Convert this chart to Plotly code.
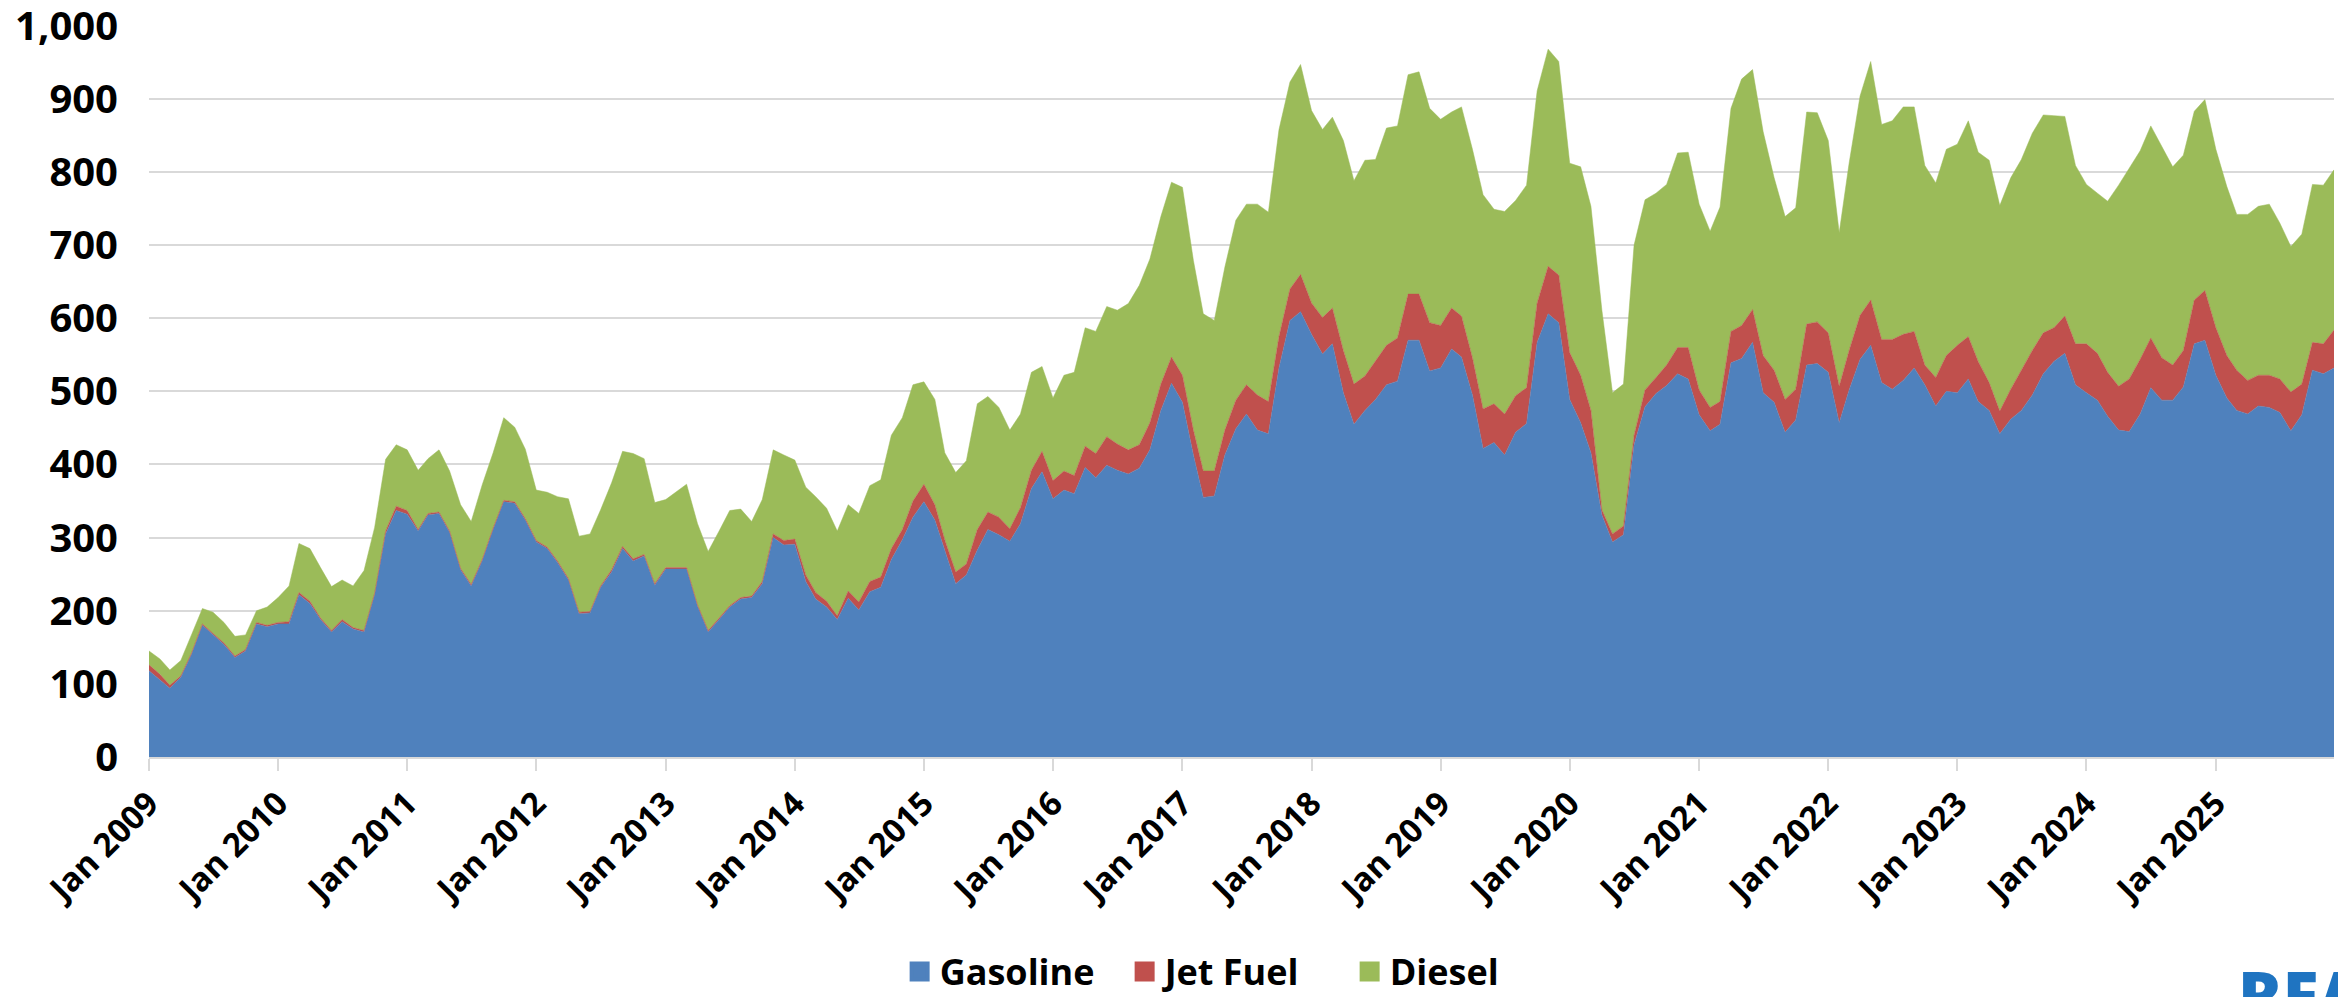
import pandas as pd
import plotly.graph_objects as go

# monthly values, Jan 2009 - Dec 2025
months = pd.date_range("2009-01-01", periods=204, freq="MS")

gasoline = [
    118, 106, 94, 109, 140, 180, 167, 154, 136, 145, 182, 178,
    182, 182, 222, 210, 188, 171, 185, 175, 171, 222, 305, 337,
    332, 309, 331, 333, 307, 256, 234, 268, 311, 349, 347, 324,
    294, 285, 266, 242, 196, 197, 232, 253, 285, 268, 275, 235,
    257, 257, 257, 206, 171, 188, 205, 216, 218, 237, 300, 290,
    291, 240, 216, 205, 188, 217, 201, 226, 232, 270, 297, 328,
    349, 324, 282, 237, 249, 283, 311, 304, 295, 319, 367, 390,
    353, 365, 360, 396, 382, 399, 392, 387, 395, 420, 474, 511,
    485, 413, 355, 357, 413, 449, 469, 447, 442, 532, 597, 609,
    578, 551, 565, 498, 455, 474, 489, 509, 514, 570, 570, 528,
    532, 558, 547, 495, 422, 430, 413, 444, 456, 567, 606, 594,
    489, 457, 416, 331, 294, 304, 427, 479, 497, 508, 524, 517,
    468, 446, 455, 539, 545, 567, 498, 485, 444, 461, 536, 538,
    526, 457, 502, 544, 563, 512, 503, 515, 532, 509, 480, 500,
    498, 517, 486, 474, 442, 462, 474, 495, 524, 541, 552, 509,
    498, 488, 466, 447, 445, 469, 505, 488, 488, 506, 565, 570,
    522, 491, 474, 469, 480, 478, 471, 446, 468, 529, 524, 532,
]

jet_fuel = [
    8, 7, 4, 2, 2, 2, 2, 2, 2, 2, 2, 2,
    2, 3, 3, 3, 2, 2, 3, 2, 2, 2, 4, 6,
    5, 2, 2, 2, 2, 2, 2, 2, 2, 2, 2, 2,
    2, 2, 2, 2, 2, 2, 2, 3, 3, 3, 2, 2,
    2, 2, 2, 2, 2, 2, 2, 2, 2, 3, 5, 6,
    7, 9, 9, 8, 5, 10, 11, 14, 14, 15, 14, 22,
    24, 21, 15, 16, 15, 28, 24, 24, 17, 22, 25, 28,
    25, 26, 25, 29, 33, 39, 36, 33, 32, 37, 36, 36,
    37, 34, 36, 34, 34, 39, 40, 48, 44, 43, 43, 51,
    43, 50, 49, 58, 55, 47, 52, 54, 59, 63, 63, 66,
    58, 56, 56, 51, 54, 53, 56, 50, 49, 54, 65, 65,
    64, 65, 58, 7, 11, 12, 13, 23, 22, 28, 36, 43,
    34, 32, 31, 43, 45, 45, 51, 44, 45, 42, 56, 57,
    54, 50, 54, 60, 62, 59, 68, 63, 50, 27, 39, 49,
    65, 58, 55, 38, 31, 41, 55, 61, 56, 46, 51, 56,
    67, 64, 60, 60, 72, 75, 68, 58, 48, 50, 60, 68,
    65, 58, 55, 46, 42, 44, 46, 53, 42, 38, 41, 52,
]

diesel = [
    19, 21, 21, 21, 25, 21, 29, 28, 27, 20, 16, 25,
    34, 49, 67, 72, 69, 60, 54, 57, 82, 90, 98, 84,
    83, 81, 75, 85, 82, 87, 86, 102, 103, 113, 102, 95,
    69, 75, 88, 109, 104, 106, 104, 119, 130, 144, 131, 111,
    93, 104, 114, 111, 108, 119, 130, 121, 102, 112, 115, 117,
    108, 120, 131, 127, 116, 118, 121, 131, 133, 155, 153, 159,
    140, 144, 119, 136, 141, 172, 158, 150, 135, 128, 134, 116,
    113, 131, 141, 162, 167, 178, 183, 200, 218, 224, 229, 239,
    257, 232, 215, 206, 223, 246, 247, 261, 259, 283, 283, 287,
    263, 257, 261, 287, 278, 295, 276, 297, 290, 300, 304, 293,
    282, 268, 286, 285, 293, 266, 277, 267, 277, 290, 297, 292,
    259, 285, 279, 273, 193, 194, 260, 260, 252, 247, 266, 267,
    254, 241, 266, 305, 337, 328, 306, 263, 250, 248, 290, 286,
    263, 210, 256, 300, 326, 294, 299, 311, 307, 273, 266, 282,
    275, 295, 286, 304, 281, 289, 288, 297, 298, 290, 273, 244,
    218, 219, 234, 275, 289, 285, 290, 289, 271, 267, 258, 261,
    244, 231, 213, 227, 231, 234, 213, 199, 205, 216, 217, 219,
]

series = [
    ("Gasoline", gasoline, "#4F81BD"),
    ("Jet Fuel", jet_fuel, "#C0504D"),
    ("Diesel", diesel, "#9BBB59"),
]

fig = go.Figure()
for name, vals, color in series:
    fig.add_trace(go.Scatter(
        x=months, y=vals, name=name, mode="lines", stackgroup="fuel",
        line=dict(width=0.5, color=color), fillcolor=color, showlegend=False,
    ))
# square swatches for the legend, like the Excel original
for name, vals, color in series:
    fig.add_trace(go.Scatter(
        x=[None], y=[None], name=name, mode="markers",
        marker=dict(symbol="square", size=16, color=color, line=dict(width=4, color=color)),
    ))

font = "Open Sans"
fig.update_layout(
    width=2338, height=997,
    margin=dict(l=149, r=4, t=25, b=240, autoexpand=False),
    plot_bgcolor="white", paper_bgcolor="white",
    legend=dict(orientation="h", x=0.498, xanchor="center", y=-0.293, yanchor="middle",
                font=dict(family=font, size=36, color="black", weight="bold"),
                entrywidth=180, itemsizing="trace", traceorder="normal"),
    showlegend=True,
)
fig.update_xaxes(
    range=["2009-01-01", "2025-12-01"], automargin=False,
    tick0="2009-01-01", dtick="M12", tickformat="%b %Y", tickangle=-45,
    ticks="outside", ticklen=12, tickwidth=2, tickcolor="#D9D9D9",
    showline=True, linecolor="#D9D9D9", linewidth=2,
    showgrid=False, ticklabelstandoff=0, ticklabeloverflow="allow",
    tickfont=dict(family=font, size=33, color="black", weight="bold"),
)
fig.update_yaxes(
    range=[0, 1001], tick0=0, dtick=100, tickformat=",", automargin=False,
    showgrid=True, gridcolor="#D9D9D9", gridwidth=2, zeroline=False,
    ticks="", ticklabelstandoff=30, ticklabeloverflow="allow",
    tickfont=dict(family=font, size=40, color="black", weight="bold"),
)

fig.add_annotation(
    text="RFA", xref="paper", yref="paper", x=0.955, y=-0.258,
    xanchor="left", yanchor="top", showarrow=False,
    font=dict(family=font, size=66, color="#1F74C1", weight=800),
)

# drop the default page margin so the figure sits at the window's corner
fig.write_html("out.html", config={"displayModeBar": False},
               post_script="document.body.style.margin='0';")
